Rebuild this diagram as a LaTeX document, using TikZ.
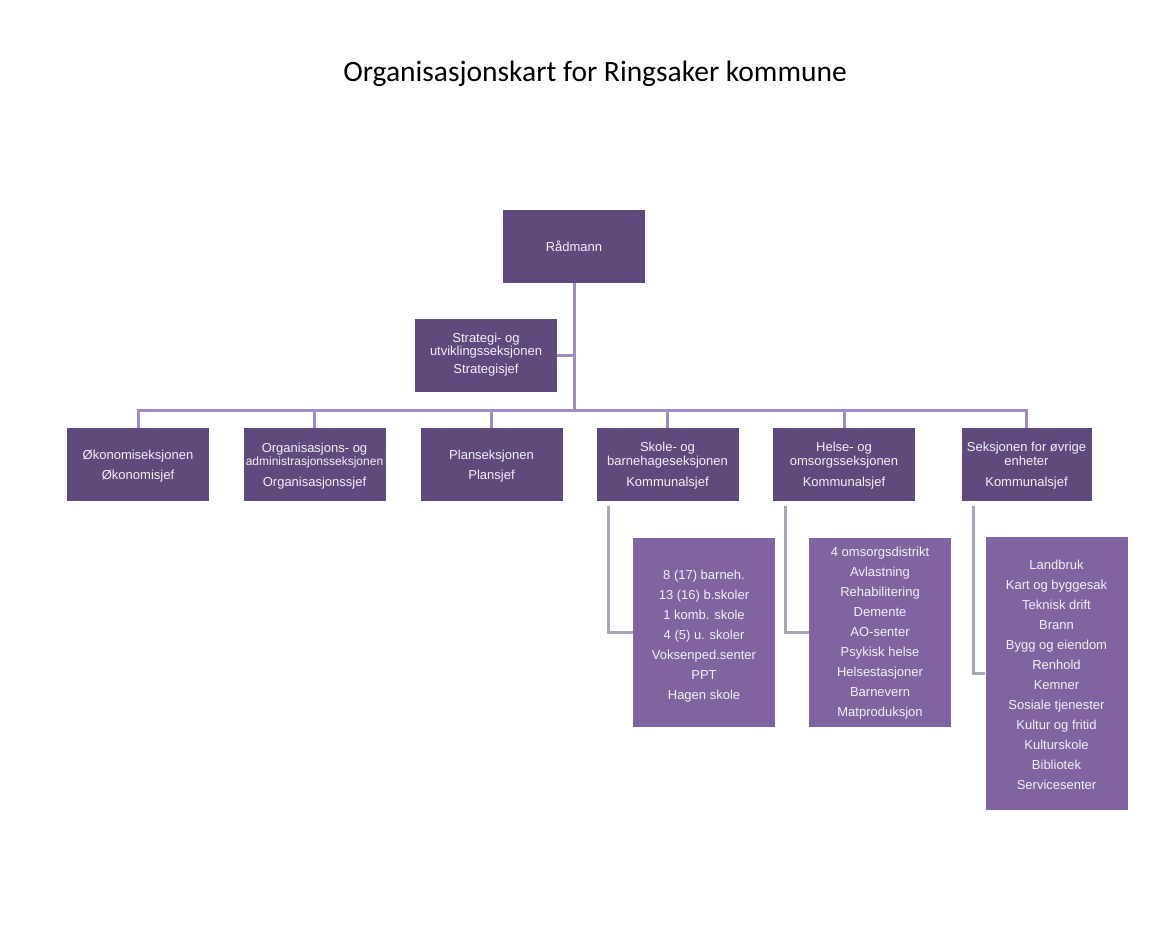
\documentclass[tikz,border=0pt]{standalone}
\usepackage{fontspec}
\setmainfont{Liberation Sans}
\newfontfamily\titlefont{Carlito}
\definecolor{boxdark}{HTML}{604A7B}
\definecolor{boxlight}{HTML}{8064A2}
\definecolor{treeline}{HTML}{A08CC2}
\definecolor{subline}{HTML}{A9A6B8}
\definecolor{boxtext}{HTML}{F2F0F6}
\newcommand{\bxt}[2][0pt]{\raisebox{#1}[\height][\depth]{\begin{tabular}{@{}c@{}}#2\end{tabular}}}
\begin{document}
\begin{tikzpicture}[x=1pt,y=-1pt,
  upbox/.style={fill=boxdark, draw=none, minimum width=142pt, minimum height=73pt, inner sep=0pt,
    text=boxtext, font=\fontsize{13}{14.5}\selectfont},
  subbox/.style={fill=boxlight, draw=none, minimum width=142pt, inner sep=0pt,
    text=boxtext, font=\fontsize{13}{20}\selectfont},
  tree/.style={draw=treeline, line width=3pt, line join=miter},
  subconn/.style={draw=subline, line width=3pt, line join=miter}]
\useasboundingbox[fill=white] (0,0) rectangle (1164,931);
\node (title) at (595,74) {\titlefont\fontsize{29.5}{34}\selectfont Organisasjonskart for Ringsaker kommune};

\node[upbox] (rad) at (574,246.5) {Rådmann};
\node[upbox] (strat) at (486,355) {\bxt{Strategi- og\\[-1.5pt]utviklingsseksjonen\\[4pt]Strategisjef}};

\node[upbox] (b1) at (138,464.5) {\bxt[-2.5pt]{Økonomiseksjonen\\[5.5pt]Økonomisjef}};
\node[upbox] (b2) at (314.5,464.5) {\bxt[-2pt]{Organisasjons- og\\[-1.5pt]{\fontsize{12}{14}\selectfont administrasjonsseksjonen}\\[7pt]Organisasjonssjef}};
\node[upbox] (b3) at (491.5,464.5) {\bxt[-2.5pt]{Planseksjonen\\[5.5pt]Plansjef}};
\node[upbox] (b4) at (667.5,464.5) {\bxt[-2pt]{Skole- og\\[-1pt]barnehageseksjonen\\[7pt]Kommunalsjef}};
\node[upbox] (b5) at (844,464.5) {\bxt[-2pt]{Helse- og\\[-1pt]omsorgsseksjonen\\[7pt]Kommunalsjef}};
\node[upbox, minimum width=130pt] (b6) at (1026.5,464.5) {\bxt[-2pt]{Seksjonen for øvrige\\[-1pt]enheter\\[7pt]Kommunalsjef}};

\node[subbox, minimum height=189pt] (s1) at (704,632.5) {\bxt[-3pt]{8 (17) barneh.\\13 (16) b.skoler\\1 komb. skole\\4 (5) u. skoler\\Voksenped.senter\\PPT\\Hagen skole}};
\node[subbox, minimum height=189pt] (s2) at (880,632.5) {\bxt{4 omsorgsdistrikt\\Avlastning\\Rehabilitering\\Demente\\AO-senter\\Psykisk helse\\Helsestasjoner\\Barnevern\\Matproduksjon}};
\node[subbox, minimum height=273pt] (s3) at (1056.5,673.5) {\bxt[-2pt]{Landbruk\\Kart og byggesak\\Teknisk drift\\Brann\\Bygg og eiendom\\Renhold\\Kemner\\Sosiale tjenester\\Kultur og fritid\\Kulturskole\\Bibliotek\\Servicesenter}};

\coordinate (bus) at (574,410);
\draw[tree] (rad.south) -- (bus);
\draw[tree] (strat.east) -- (strat.east -| bus);
\foreach \b in {b1,b2,b3,b4,b5,b6}{
  \draw[tree] (\b.north) |- (bus);
}
\draw[subconn] ([xshift=12pt,yshift=-5pt]b4.south west) |- (s1.west);
\draw[subconn] ([xshift=13pt,yshift=-5pt]b5.south west) |- (s2.west);
\draw[subconn] ([xshift=12pt,yshift=-5pt]b6.south west) |- (s3.west);
\end{tikzpicture}
\end{document}
